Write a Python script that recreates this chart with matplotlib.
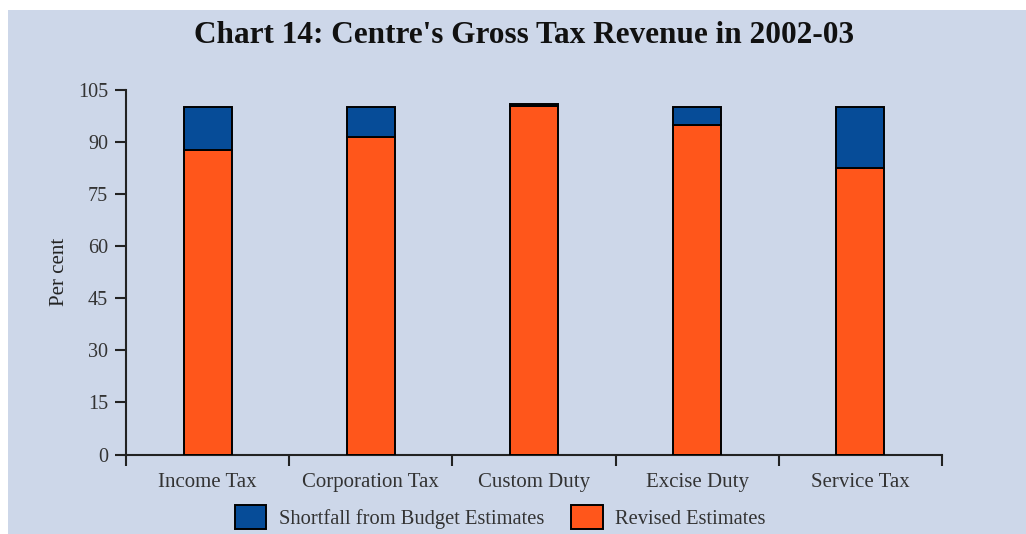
import matplotlib
matplotlib.use("Agg")
import matplotlib.pyplot as plt
from matplotlib.patches import Rectangle
import numpy as np

categories = ["Income Tax", "Corporation Tax", "Custom Duty", "Excise Duty", "Service Tax"]
revised = [87.6, 91.5, 100.3, 95.0, 82.5]
shortfall = [12.4, 8.5, 0.8, 5.0, 17.5]
yticks = [0, 15, 30, 45, 60, 75, 90, 105]

bg = "#cdd7e9"
orange = "#ff561b"
blue = "#064c98"
serif = ["Liberation Serif", "DejaVu Serif"]

fig = plt.figure(figsize=(10.26, 5.34), dpi=100, facecolor="white")
# light panel behind the whole chart
fig.patches.append(Rectangle((8 / 1026, 0), 1 - 8 / 1026, 1 - 10 / 534,
                             transform=fig.transFigure, facecolor=bg,
                             edgecolor="none", zorder=-10))

ax = fig.add_axes([126 / 1026, 1 - 454.5 / 534, (942 - 126) / 1026, (454.5 - 90) / 534])
ax.set_facecolor("none")

x = np.arange(len(categories)) + 0.5
w = 0.295
ax.bar(x, revised, w, color=orange, edgecolor="black", linewidth=1.4,
       label="Revised Estimates", zorder=3)
ax.bar(x, shortfall, w, bottom=revised, color=blue, edgecolor="black",
       linewidth=1.4, label="Shortfall from Budget Estimates", zorder=3)

ax.set_xlim(0, len(categories))
ax.set_ylim(0, 105)
ax.set_yticks(yticks)
ax.set_yticklabels([str(v) for v in yticks], fontfamily=serif, fontsize=14.5, color="#333333")
ax.set_xticks(np.arange(len(categories) + 1))
ax.set_xticklabels([])
ax.set_xticks(x, minor=True)
ax.set_xticklabels(categories, minor=True, fontfamily=serif, fontsize=15, color="#333333")
ax.tick_params(axis="x", which="minor", length=0, pad=13)
ax.tick_params(axis="x", which="major", direction="out", length=8, width=1.5, color="#222222")
ax.tick_params(axis="y", direction="out", length=8, width=1.5, color="#222222", pad=5)

for s in ["top", "right"]:
    ax.spines[s].set_visible(False)
for s in ["left", "bottom"]:
    ax.spines[s].set_color("#222222")
    ax.spines[s].set_linewidth(1.5)

ax.set_ylabel("Per cent", fontfamily=serif, fontsize=15, color="#222222", labelpad=6)

fig.text(524 / 1026, 1 - 36 / 534, "Chart 14: Centre's Gross Tax Revenue in 2002-03",
         ha="center", va="center", fontfamily=serif, fontweight="bold", fontsize=22.5,
         color="#111111")

handles, labels = ax.get_legend_handles_labels()
leg = fig.legend(handles[::-1], labels[::-1], loc="center", ncol=2,
                 bbox_to_anchor=(500 / 1026, 1 - 517 / 534), frameon=False,
                 prop={"family": serif, "size": 14.8}, handlelength=1.55,
                 handleheight=1.45, handletextpad=0.6, columnspacing=1.3)
for t in leg.get_texts():
    t.set_color("#333333")

fig.savefig("out.png", dpi=100, facecolor="white")
